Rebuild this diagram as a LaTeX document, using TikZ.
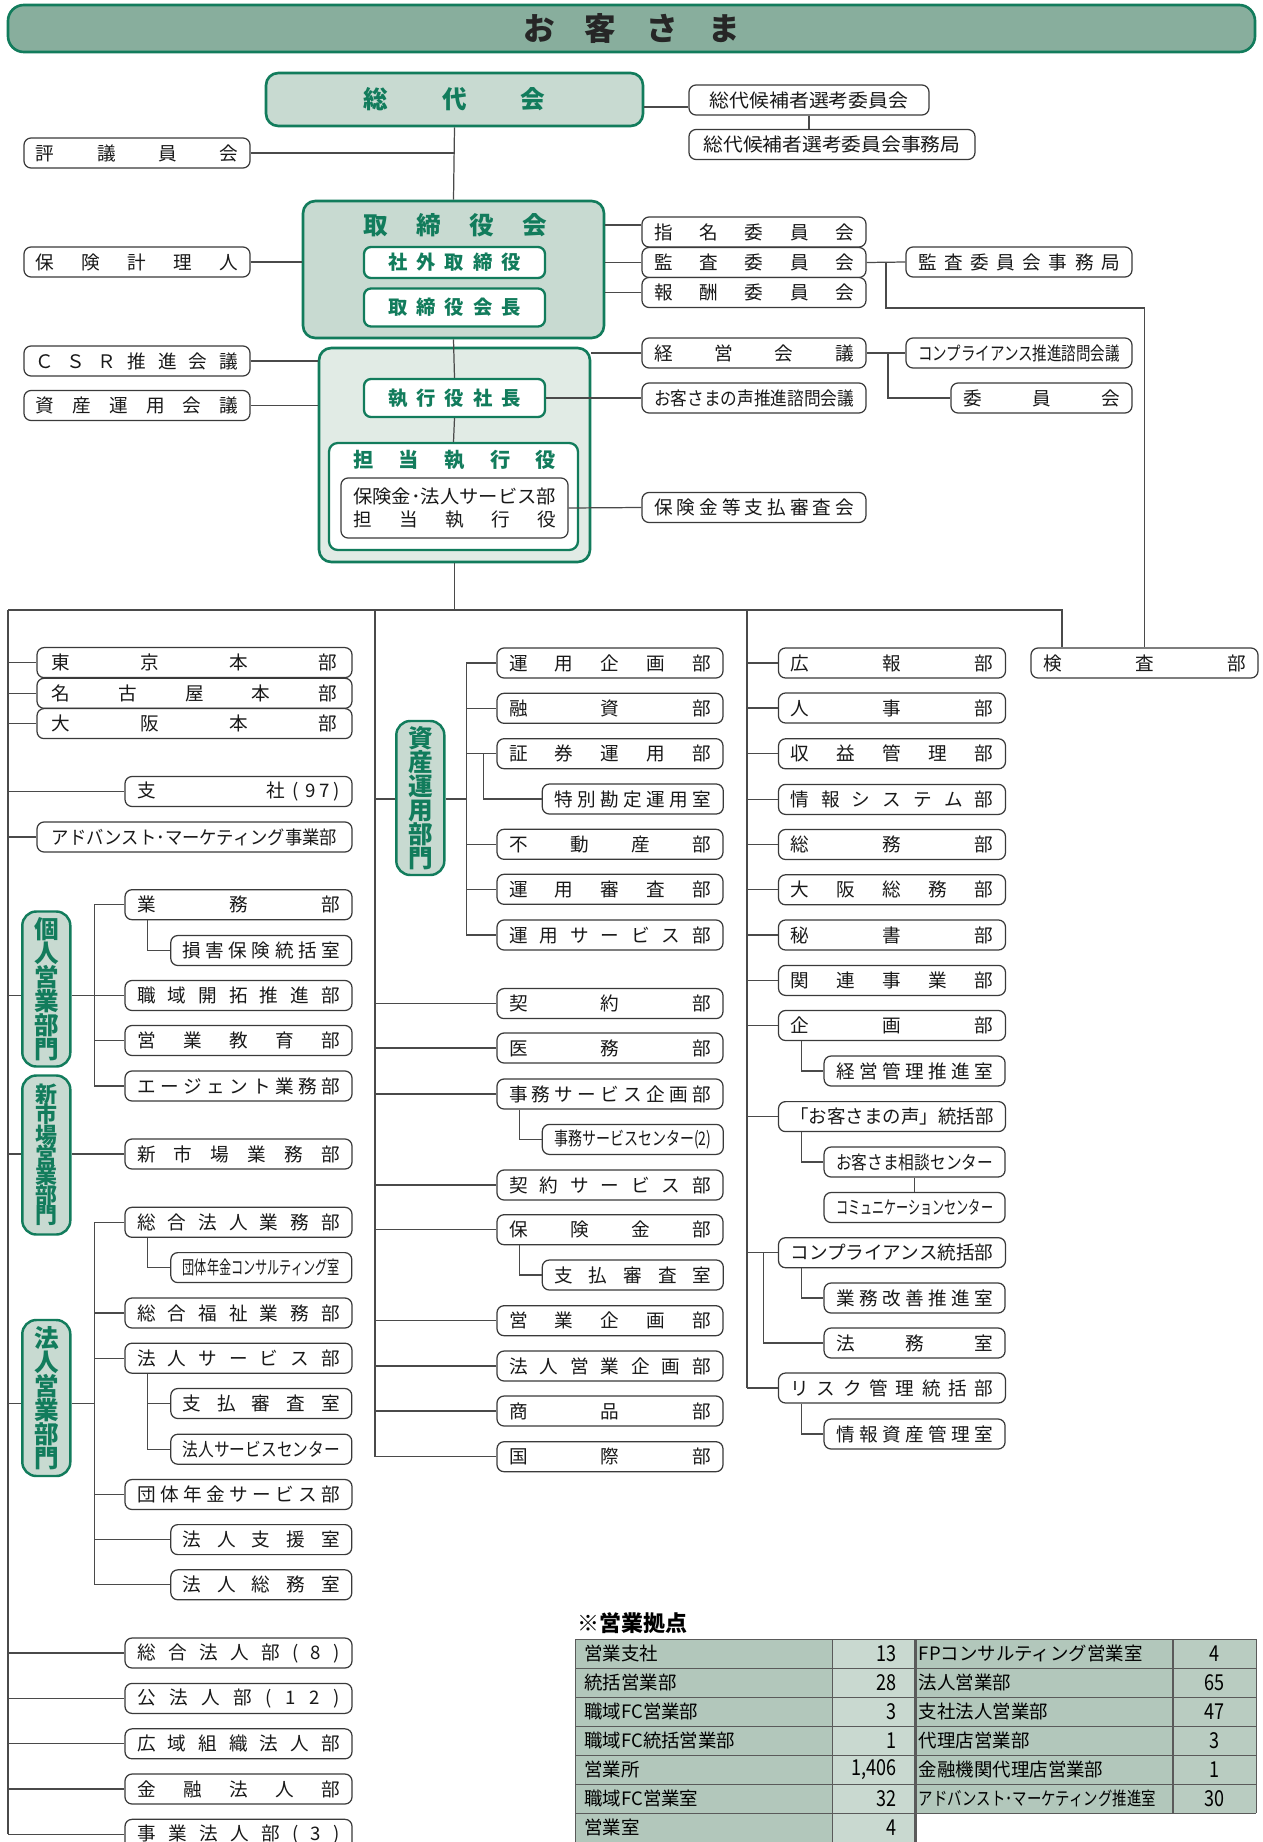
\documentclass[tikz,border=0pt]{standalone}
\usepackage{fontspec}
\setmainfont{Noto Sans CJK JP}
\usepackage{graphicx}
\definecolor{greenc}{HTML}{127C5C}
\definecolor{palec}{HTML}{C8DAD1}
\definecolor{mistc}{HTML}{E1EBE5}
\definecolor{bannerc}{HTML}{88AE9D}
\definecolor{linec}{HTML}{4A4A4A}
\definecolor{boxc}{HTML}{3A3A3A}
\definecolor{gridc}{HTML}{5A5A5A}
\definecolor{celldk}{HTML}{B2C7BB}
\definecolor{cellmd}{HTML}{B9CCC1}
\definecolor{celllt}{HTML}{C9D9D0}
\newlength\pxl
\setlength\pxl{0.02cm}
\def\sprfirst#1{#1\sprrest}
\def\sprrest#1{\ifx\relax#1\else\hfill#1\expandafter\sprrest\fi}
\newcommand\spr[2][\linewidth]{\makebox[#1][s]{\sprfirst#2\relax}}
\newcommand\cnd[1]{\resizebox{\linewidth}{\height}{#1}}
\newcommand\deptfont{\fontsize{10.6pt}{12pt}\selectfont}
\newcommand\gfont{\bfseries\fontsize{11pt}{13pt}\selectfont}
\newcommand\ttlfont{\bfseries\fontsize{14pt}{16pt}\selectfont}
\newcommand\bannerfont{\bfseries\fontsize{18pt}{20pt}\selectfont}
\newcommand\pillfont{\bfseries\fontsize{14pt}{13.6pt}\selectfont\lineskiplimit=-20pt}
\newcommand\pillsmall{\bfseries\fontsize{12.5pt}{11.5pt}\selectfont\lineskiplimit=-20pt}
\newcommand\tabfont{\fontsize{10.5pt}{12pt}\selectfont}
\newcommand\tnum[1]{\scalebox{0.82}[1]{\fontsize{12.5pt}{13pt}\selectfont#1}}
\tikzset{
  wire/.style={draw=linec, line width=0.7pt},
  tgrid/.style={draw=gridc, line width=0.6pt},
  wd/.style={minimum width=#1*\pxl},
  ht/.style={minimum height=#1*\pxl},
  tw/.code={\pgfmathsetmacro\twtmp{(#1)*0.02}\edef\twdo{\noexpand\tikzset{text width=\twtmp cm}}\twdo},
  dept/.style={draw=boxc, line width=0.7pt, rounded corners=4pt, fill=white, text=black!90,
    inner xsep=0pt, inner ysep=0pt, minimum width=#1*\pxl, minimum height=0.6cm, tw={#1-24}, font=\deptfont},
  pill/.style={draw=greenc, line width=1.4pt, fill=palec, rounded corners=8pt, text=greenc,
    align=center, inner sep=0pt, minimum width=48*\pxl, font=\pillfont},
  gpanel/.style={draw=greenc, line width=1.5pt, fill=palec, rounded corners=7pt, inner sep=0pt},
  gbox/.style={draw=greenc, line width=1.3pt, fill=white, rounded corners=4pt, text=greenc,
    inner sep=0pt, minimum width=181*\pxl, font=\gfont},
  gtitle/.style={text=greenc, inner sep=0pt, font=\ttlfont},
  banner/.style={draw=greenc, line width=1.5pt, fill=bannerc, rounded corners=9pt,
    minimum width=1247*\pxl, minimum height=47*\pxl, text=black!85, font=\bannerfont},
  tname/.style={inner sep=0pt, font=\tabfont},
}
\begin{document}
\begin{tikzpicture}[x=0.02cm, y=-0.02cm]
\useasboundingbox[fill=white] (0,0) rectangle (1263,1842);

% top management
\node[banner] (okyaku) at (631.5,28.5) {\spr[217\pxl]{お客さま}};
\node[gpanel, wd=377, ht=53, text=greenc, font=\ttlfont] (sodai) at (454.5,99.5) {\spr[182\pxl]{総代会}};
\node[dept=240, tw=199] (kohosha) at (809,100) {\cnd{総代候補者選考委員会}};
\node[dept=286, tw=257] (kjimu) at (832,144.5) {\cnd{総代候補者選考委員会事務局}};
\node[dept=226] (hyogi) at (137,153) {\spr{評議員会}};
\node[gpanel, wd=301, ht=137] (board) at (453.5,269.5) {};
\node[gtitle] (boardT) at (455,225) {\spr[184\pxl]{取締役会}};
\node[gbox, ht=31] (shagai) at (454.5,262.5) {\spr[133\pxl]{社外取締役}};
\node[gbox, ht=38] (kaicho) at (454.5,307.5) {\spr[133\pxl]{取締役会長}};
\node[dept=226] (keiri) at (137,262) {\spr{保険計理人}};
\node[dept=224] (shimei) at (754,232) {\spr{指名委員会}};
\node[dept=224] (kansa) at (754,262.5) {\spr{監査委員会}};
\node[dept=224] (hoshu) at (754,292.5) {\spr{報酬委員会}};
\node[dept=226] (kjim) at (1019,262) {\spr{監査委員会事務局}};
\node[gpanel, fill=mistc, wd=271, ht=214] (exec) at (454.5,455) {};
\node[gbox, ht=38] (shacho) at (454.5,398) {\spr[133\pxl]{執行役社長}};
\node[gpanel, fill=white, line width=1.3pt, rounded corners=5pt, wd=249, ht=107] (tanto) at (453.5,496.5) {};
\node[gtitle, font=\bfseries\fontsize{11.5pt}{13pt}\selectfont] (tantoT) at (454.5,460) {\spr[203\pxl]{担当執行役}};
\node[dept=227, ht=60, font=\fontsize{10.6pt}{12.8pt}\selectfont] (inner) at (454.5,508) {\cnd{保険金･法人サービス部}\\\spr{担当執行役}};
\node[dept=226] (csr) at (137,361) {\spr{ＣＳＲ推進会議}};
\node[dept=226] (shisankaigi) at (137,405.5) {\spr{資産運用会議}};
\node[dept=224] (keiei) at (754,353) {\spr{経営会議}};
\node[dept=226] (compad) at (1019,353) {\cnd{コンプライアンス推進諮問会議}};
\node[dept=181] (iin) at (1041.5,398) {\spr{委員会}};
\node[dept=224] (koe) at (754,398) {\cnd{お客さまの声推進諮問会議}};
\node[dept=224] (shinsakai) at (754,507.5) {\spr{保険金等支払審査会}};

% left column
\node[dept=315, tw=285] (tokyo) at (194.5,662.6) {\spr{東京本部}};
\node[dept=315, tw=285] (nagoya) at (194.5,693.3) {\spr{名古屋本部}};
\node[dept=315, tw=285] (osaka) at (194.5,723.6) {\spr{大阪本部}};
\node[dept=227] (shisha) at (238.5,791.5) {\makebox[\linewidth][s]{支\hfill 社\hspace{8\pxl}(\hspace{6\pxl}9\hspace{4\pxl}7\hspace{4\pxl})}};
\node[dept=315, tw=285] (adv) at (194.5,837) {\cnd{アドバンスト･マーケティング事業部}};
\node[pill, ht=155] (kojinP) at (46.3,989) {個\\人\\営\\業\\部\\門};
\node[dept=227] (gyomu) at (238.5,904.7) {\spr{業務部}};
\node[dept=181] (songai) at (261.3,950.5) {\spr{損害保険統括室}};
\node[dept=227] (shokuiki) at (238.5,995.5) {\spr{職域開拓推進部}};
\node[dept=227] (kyoiku) at (238.5,1040.5) {\spr{営業教育部}};
\node[dept=227] (agent) at (238.5,1086) {\spr{エージェント業務部}};
\node[pill, ht=159, font=\pillsmall] (shinP) at (46.3,1155) {新\\市\\場\\営\\業\\部\\門};
\node[dept=227] (shinshijo) at (238.5,1154) {\spr{新市場業務部}};
\node[pill, ht=156] (hojinP) at (46.3,1398) {法\\人\\営\\業\\部\\門};
\node[dept=227] (sogoG) at (238.5,1222.3) {\spr{総合法人業務部}};
\node[dept=181] (consul) at (261.3,1267.6) {\cnd{団体年金コンサルティング室}};
\node[dept=227] (fukushi) at (238.5,1313) {\spr{総合福祉業務部}};
\node[dept=227] (hservice) at (238.5,1358.2) {\spr{法人サービス部}};
\node[dept=181] (shiharaiL) at (261.3,1403.5) {\spr{支払審査室}};
\node[dept=181] (hsc) at (261.3,1449.2) {\cnd{法人サービスセンター}};
\node[dept=227] (dantaiS) at (238.5,1494.5) {\spr{団体年金サービス部}};
\node[dept=181] (shien) at (261.3,1539.6) {\spr{法人支援室}};
\node[dept=181] (somu) at (261.3,1584.8) {\spr{法人総務室}};
\node[dept=227] (sogo8) at (238.5,1653) {\spr{総合法人部(8)}};
\node[dept=227] (kohojin) at (238.5,1698.4) {\spr{公法人部(12)}};
\node[dept=227] (koiki) at (238.5,1743.8) {\spr{広域組織法人部}};
\node[dept=227] (kinyu) at (238.5,1789) {\spr{金融法人部}};
\node[dept=227] (jigyo) at (238.5,1834.3) {\spr{事業法人部(3)}};

% middle column
\node[pill, ht=154] (shisanP) at (420.3,798) {資\\産\\運\\用\\部\\門};
\node[dept=226] (unyoK) at (610,663) {\spr{運用企画部}};
\node[dept=226] (yushi) at (610,708.3) {\spr{融資部}};
\node[dept=226] (shoken) at (610,753.7) {\spr{証券運用部}};
\node[dept=181] (tokubetsu) at (632.8,799) {\spr{特別勘定運用室}};
\node[dept=226] (fudosan) at (610,844.3) {\spr{不動産部}};
\node[dept=226] (shinsa) at (610,889.3) {\spr{運用審査部}};
\node[dept=226] (unyoS) at (610,935) {\spr{運用サービス部}};
\node[dept=226] (keiyaku) at (610,1003.6) {\spr{契約部}};
\node[dept=226] (imu) at (610,1048) {\spr{医務部}};
\node[dept=226] (jimuK) at (610,1094) {\spr{事務サービス企画部}};
\node[dept=181] (jimuC) at (632.8,1139.4) {\cnd{事務サービスセンター(2)}};
\node[dept=226] (keiyakuS) at (610,1185) {\spr{契約サービス部}};
\node[dept=226] (hokenkin) at (610,1229.7) {\spr{保険金部}};
\node[dept=181] (shiharaiM) at (632.8,1275) {\spr{支払審査室}};
\node[dept=226] (eigyoK) at (610,1320.7) {\spr{営業企画部}};
\node[dept=226] (hojinK) at (610,1366) {\spr{法人営業企画部}};
\node[dept=226] (shohin) at (610,1411) {\spr{商品部}};
\node[dept=226] (kokusai) at (610,1456.7) {\spr{国際部}};

% right column
\node[dept=227] (koho) at (892,663) {\spr{広報部}};
\node[dept=227] (jinji) at (892,708) {\spr{人事部}};
\node[dept=227] (shueki) at (892,753.8) {\spr{収益管理部}};
\node[dept=227] (joho) at (892,799.4) {\spr{情報システム部}};
\node[dept=227] (somuR) at (892,844.5) {\spr{総務部}};
\node[dept=227] (osakaS) at (892,889.8) {\spr{大阪総務部}};
\node[dept=227] (hisho) at (892,935) {\spr{秘書部}};
\node[dept=227] (kanren) at (892,980.4) {\spr{関連事業部}};
\node[dept=227] (kikaku) at (892,1025.5) {\spr{企画部}};
\node[dept=181] (keikan) at (914.6,1071) {\spr{経営管理推進室}};
\node[dept=227] (koeT) at (892,1116.6) {\cnd{「お客さまの声」統括部}};
\node[dept=181] (sodan) at (914.6,1162) {\cnd{お客さま相談センター}};
\node[dept=181] (commu) at (914.6,1207.5) {\cnd{コミュニケーションセンター}};
\node[dept=227] (compT) at (892,1252.7) {\cnd{コンプライアンス統括部}};
\node[dept=181] (kaizen) at (914.6,1298) {\spr{業務改善推進室}};
\node[dept=181] (homu) at (914.6,1343) {\spr{法務室}};
\node[dept=227] (risk) at (892,1388) {\spr{リスク管理統括部}};
\node[dept=181] (jsk) at (914.6,1434) {\spr{情報資産管理室}};
\node[dept=227] (kensa) at (1144.5,663) {\spr{検査部}};

% bus and branch points
\coordinate (busL) at (8,610);
\coordinate (busM) at (375,610);
\coordinate (busR) at (747,610);
\coordinate (busK) at (1062,610);
\coordinate (xK) at (94.7,0);
\coordinate (xKs) at (147.8,0);
\coordinate (xA) at (466.7,0);
\coordinate (xAs) at (483.3,0);
\coordinate (xMs) at (519.6,0);
\coordinate (xRs) at (801.4,0);
\coordinate (xRl) at (763.3,0);
\coordinate (xAud) at (886,0);
\coordinate (xCmp) at (888,0);
\coordinate (sdR) at ([yshift=-7.5*\pxl]sodai.east);
\coordinate (shL) at ([yshift=7*\pxl]shimei.west);

% connectors, top
\draw[wire] (sodai.south) -- (board.north);
\draw[wire] (hyogi.east) -- (hyogi.east -| sodai.south);
\draw[wire] (sdR) -- (sdR -| kohosha.west);
\draw[wire] (kohosha.south) -- (kohosha.south |- kjimu.north);
\draw[wire] (keiri.east) -- (keiri.east -| board.west);
\draw[wire] (shL) -- (shL -| board.east);
\draw[wire] (kansa.west) -- (kansa.west -| board.east);
\draw[wire] (hoshu.west) -- (hoshu.west -| board.east);
\draw[wire] (kansa.east) -- (kjim.west);
\draw[wire] (xAud |- kansa.east) |- (kensa.north |- hoshu.south) -- (kensa.north);
\draw[wire] (board.south) -- (shacho.north);
\draw[wire] (shacho.south) -- (tanto.north);
\draw[wire] (csr.east) -- (csr.east -| exec.west);
\draw[wire] (shisankaigi.east) -- (shisankaigi.east -| exec.west);
\draw[wire] (keiei.west) -- (keiei.west -| exec.east);
\draw[wire] (keiei.east) -- (compad.west);
\draw[wire] (xCmp |- keiei.east) |- (iin.west);
\draw[wire] (shacho.east) -- (koe.west);
\draw[wire] (inner.east) -- (shinsakai.west);
\draw[wire] (exec.south) -- (exec.south |- busL);
\draw[wire] (busL) -- (busK) -- (busK |- kensa.north);
\draw[wire] (busL) -- (busL |- jigyo.west);
\draw[wire] (busM) -- (busM |- kokusai.west);
\draw[wire] (busR) -- (busR |- risk.west);

% connectors, left
\foreach \n in {tokyo,nagoya,osaka,shisha,adv,sogo8,kohojin,koiki,kinyu,jigyo}
  \draw[wire] (busL |- \n.west) -- (\n.west);
\draw[wire] (busL |- shokuiki.west) -- (kojinP.west |- shokuiki.west);
\draw[wire] (kojinP.east |- shokuiki.west) -- (shokuiki.west);
\draw[wire] (gyomu.west) -- (xK |- gyomu.west) |- (agent.west);
\draw[wire] (xK |- kyoiku.west) -- (kyoiku.west);
\draw[wire] (xKs |- gyomu.south) |- (songai.west);
\draw[wire] (busL |- shinshijo.west) -- (shinP.west |- shinshijo.west);
\draw[wire] (shinP.east |- shinshijo.west) -- (shinshijo.west);
\draw[wire] (sogoG.west) -- (xK |- sogoG.west) |- (somu.west);
\foreach \n in {fukushi,hservice,dantaiS,shien}
  \draw[wire] (xK |- \n.west) -- (\n.west);
\draw[wire] (xKs |- sogoG.south) |- (consul.west);
\draw[wire] (xKs |- hservice.south) |- (hsc.west);
\draw[wire] (xKs |- shiharaiL.west) -- (shiharaiL.west);
\draw[wire] (busL |- shiharaiL.west) -- (hojinP.west |- shiharaiL.west);
\draw[wire] (hojinP.east |- shiharaiL.west) -- (xK |- shiharaiL.west);

% connectors, middle
\draw[wire] (busM |- tokubetsu.west) -- (shisanP.west |- tokubetsu.west);
\draw[wire] (shisanP.east |- tokubetsu.west) -- (xA |- tokubetsu.west);
\draw[wire] (unyoK.west) -- (xA |- unyoK.west) |- (unyoS.west);
\foreach \n in {yushi,shoken,fudosan,shinsa}
  \draw[wire] (xA |- \n.west) -- (\n.west);
\draw[wire] (xAs |- shoken.west) |- (tokubetsu.west);
\foreach \n in {keiyaku,imu,jimuK,keiyakuS,hokenkin,eigyoK,hojinK,shohin,kokusai}
  \draw[wire] (busM |- \n.west) -- (\n.west);
\draw[wire] (xMs |- jimuK.south) |- (jimuC.west);
\draw[wire] (xMs |- hokenkin.south) |- (shiharaiM.west);

% connectors, right
\foreach \n in {koho,jinji,shueki,joho,somuR,osakaS,hisho,kanren,kikaku,koeT,compT,risk}
  \draw[wire] (busR |- \n.west) -- (\n.west);
\draw[wire] (xRs |- kikaku.south) |- (keikan.west);
\draw[wire] (xRs |- koeT.south) |- (sodan.west);
\draw[wire] (sodan.south) -- (commu.north);
\draw[wire] (xRs |- compT.south) |- (kaizen.west);
\draw[wire] (xRl |- compT.west) |- (homu.west);
\draw[wire] (xRs |- risk.south) |- (jsk.west);

% sales offices table
\node[anchor=west, inner sep=0pt, font=\bfseries\fontsize{12.5pt}{14pt}\selectfont] (tabT) at (577,1623) {※営業拠点};
\fill[celldk] (575.7,1639.3) rectangle (832.6,1842);
\fill[celllt] (832.6,1639.3) rectangle (915.6,1842);
\fill[celldk] (915.6,1639.3) rectangle (1173,1813.3);
\fill[cellmd] (1173,1639.3) rectangle (1256.4,1813.3);
\foreach \i in {0,...,7}
  \draw[tgrid] (575.7,1639.3+29*\i) -- (915.6,1639.3+29*\i);
\foreach \i in {0,...,6}
  \draw[tgrid] (915.6,1639.3+29*\i) -- (1256.4,1639.3+29*\i);
\draw[tgrid] (575.7,1639.3) -- (575.7,1842) (832.6,1639.3) -- (832.6,1842)
  (1173,1639.3) -- (1173,1813.3) (1256.4,1639.3) -- (1256.4,1813.3);
\draw[tgrid, line width=1.3pt] (915.6,1639.3) -- (915.6,1842);
\foreach \i/\nm/\v in {0/営業支社/13,1/統括営業部/28,2/職域FC営業部/3,3/職域FC統括営業部/1,4/営業所/{1,406},5/職域FC営業室/32,6/営業室/4}{
  \node[tname, anchor=west] (ln\i) at (584,1653.8+29*\i) {\nm};
  \node[tname, anchor=east] (lv\i) at (897,1653.8+29*\i) {\tnum{\v}};
}
\foreach \i/\nm/\v in {0/FPコンサルティング営業室/4,1/法人営業部/65,2/支社法人営業部/47,3/代理店営業部/3,4/金融機関代理店営業部/1,5/{\resizebox{237\pxl}{\height}{アドバンスト･マーケティング推進室}}/30}{
  \node[tname, anchor=west] (rn\i) at (918.5,1653.8+29*\i) {\nm};
  \node[tname] (rv\i) at (1214.7,1653.8+29*\i) {\tnum{\v}};
}
\end{tikzpicture}
\end{document}
